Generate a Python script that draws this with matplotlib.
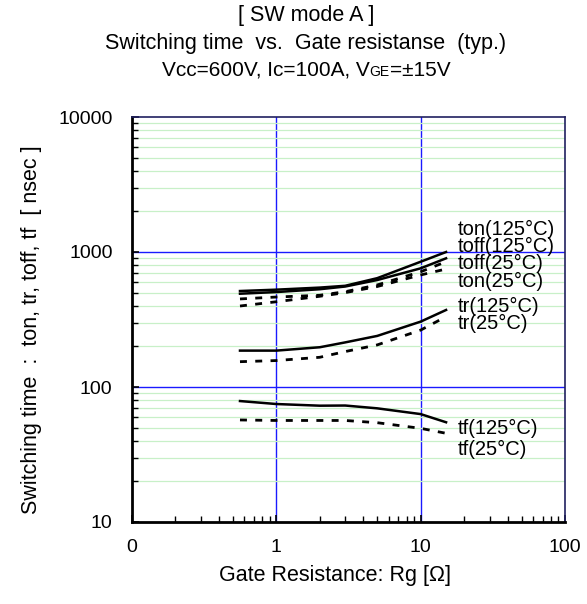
import numpy as np
import matplotlib
matplotlib.use('Agg')
from matplotlib import pyplot as plt
from matplotlib.ticker import LogLocator, NullFormatter

plt.rcParams['font.family'] = ['Liberation Sans', 'DejaVu Sans']

# gate resistance [ohm]
rg = [0.56, 1, 2, 3, 5, 10, 15]

# switching times [nsec]
ton_125 = [514, 526, 545, 562, 640, 847, 1000]
toff_125 = [491, 505, 530, 555, 620, 757, 898]
toff_25 = [449, 464, 478, 508, 570, 714, 847]
ton_25 = [398, 428, 470, 500, 555, 676, 748]
tr_125 = [186, 186, 197, 214, 239, 305, 372]
tr_25 = [154, 157, 166, 183, 205, 264, 332]
tf_125 = [78.7, 74.8, 72.7, 72.9, 69.5, 63, 54.8]
tf_25 = [57, 56.5, 56.5, 56.5, 54.4, 49.4, 45.4]

curves = [ton_125, toff_125, toff_25, ton_25, tr_125, tr_25, tf_125, tf_25]
styles = ['-', '-', '--', '--', '-', '--', '-', '--']

labels = ['ton(125°C)', 'toff(125°C)', 'toff(25°C)', 'ton(25°C)',
          'tr(125°C)', 'tr(25°C)', 'tf(125°C)', 'tf(25°C)']
label_y = [1479, 1107, 829, 610, 392, 298, 49.7, 34.7]

xticks = [0.1, 1, 10, 100]
xticklabels = ['0', '1', '10', '100']
yticks = [10, 100, 1000, 10000]
yticklabels = ['10', '100', '1000', '10000']

fig = plt.figure(figsize=(5.87, 6.04), dpi=100)
ax = fig.add_axes([132/587, 1-522/604, 433/587, 405/604])
ax.set_xscale('log')
ax.set_yscale('log')
ax.set_xlim(0.1, 100)
ax.set_ylim(10, 10000)

# grid
ax.yaxis.set_minor_locator(LogLocator(base=10, subs=np.arange(2, 10)))
ax.yaxis.set_minor_formatter(NullFormatter())
ax.xaxis.set_minor_locator(LogLocator(base=10, subs=np.arange(2, 10)))
ax.xaxis.set_minor_formatter(NullFormatter())
ax.grid(True, which='minor', axis='y', color='#c8f0c8', lw=0.9)
for v in [1, 10]:
    ax.axvline(v, color='#1a1aff', lw=1.0, zorder=1)
for v in [100, 1000]:
    ax.axhline(v, color='#1a1aff', lw=1.0, zorder=1)

for c, ls in zip(curves, styles):
    if ls == '-':
        ax.plot(rg, c, color='black', lw=1.8, ls='-', zorder=3)
    else:
        ax.plot(rg, c, color='black', lw=2.0, ls=(0, (2.5, 3)), zorder=3)

for lab, yv in zip(labels, label_y):
    ax.text(18, yv, lab, fontsize=14.5, va='center', ha='left', zorder=4)

ax.set_xticks(xticks)
ax.set_xticklabels(xticklabels, fontsize=14)
ax.set_yticks(yticks)
ax.set_yticklabels(yticklabels, fontsize=14)
ax.tick_params(which='both', direction='in', top=False, right=False)
ax.tick_params(which='major', length=5, width=1.2)
ax.tick_params(axis='x', which='major', pad=12)
ax.tick_params(axis='y', which='major', pad=14)
ax.tick_params(which='minor', length=4, width=1.0)

for s in ['left', 'bottom']:
    ax.spines[s].set_color('black')
    ax.spines[s].set_linewidth(2.0)
for s in ['top', 'right']:
    ax.spines[s].set_color('#202060')
    ax.spines[s].set_linewidth(1.2)

fig.text(335/587, 1-576/604, 'Gate Resistance: Rg [Ω]', fontsize=15.5, ha='center', va='center')
fig.text(32/587, 1-330/604, 'Switching time  :  ton, tr, toff, tf  [ nsec ]', fontsize=15.5,
         ha='center', va='center', rotation=90)

cx = 306/587
fig.text(cx, 1-16/604, '[ SW mode A ]', fontsize=15.5, ha='center', va='center')
fig.text(cx, 1-44/604, 'Switching time  vs.  Gate resistanse  (typ.)', fontsize=15.5, ha='center', va='center')

# third title line with small "GE"
fig.canvas.draw()
r = fig.canvas.get_renderer()
parts = [('Vcc=600V, Ic=100A, V', 15), ('GE', 10), ('=±15V', 15)]
tmp = [fig.text(0, 0, p, fontsize=s) for p, s in parts]
widths = [t.get_window_extent(r).width for t in tmp]
for t in tmp:
    t.remove()
x0 = cx*587 - sum(widths)/2
yb = 604 - 76
for (p, s), w in zip(parts, widths):
    fig.text(x0/587, yb/604, p, fontsize=s, ha='left', va='baseline')
    x0 += w

fig.savefig('out.png', dpi=100)
